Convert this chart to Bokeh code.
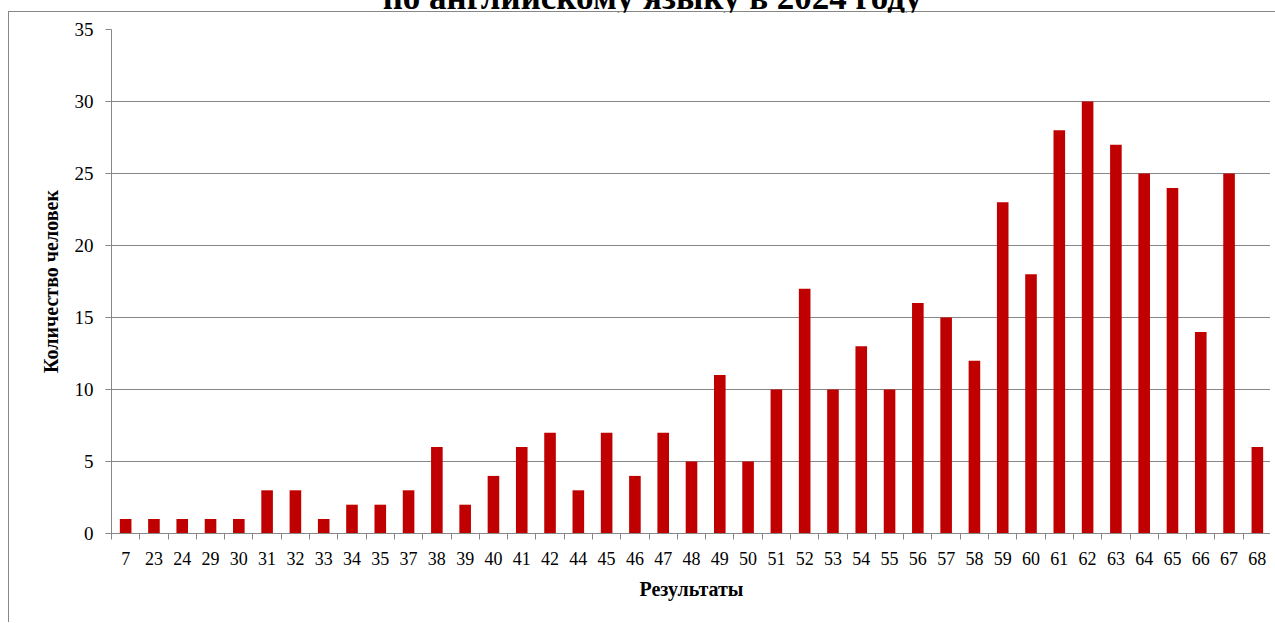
from bokeh.plotting import figure
from bokeh.models import FixedTicker, Div, Range1d
from bokeh.layouts import column
from bokeh.embed import file_html
from bokeh.resources import INLINE

# ---- data ----
scores = ["7", "23", "24", "29", "30", "31", "32", "33", "34", "35", "37", "38", "39", "40",
          "41", "42", "44", "45", "46", "47", "48", "49", "50", "51", "52", "53", "54", "55",
          "56", "57", "58", "59", "60", "61", "62", "63", "64", "65", "66", "67", "68"]
counts = [1, 1, 1, 1, 1, 3, 3, 1, 2, 2, 3, 6, 2, 4,
          6, 7, 3, 7, 4, 7, 5, 11, 5, 10, 17, 10, 13, 10,
          16, 15, 12, 23, 18, 28, 30, 27, 25, 24, 14, 25, 6]
y_ticks = [0, 5, 10, 15, 20, 25, 30, 35]
title_text = "по английскому языку в 2024 году"
x_title = "Результаты"
y_title = "Количество человек"

n = len(scores)
centers = [i + 0.5 for i in range(n)]
edges = list(range(n + 1))

GRAY = "#878787"
FONT = "Liberation Serif"

p = figure(width=1262, height=610, output_backend="svg", toolbar_location=None,
           x_range=Range1d(0, n), y_range=Range1d(0, 35),
           min_border_left=102, min_border_right=0, min_border_top=17, min_border_bottom=89,
           margin=(0, 0, 0, 8),
           styles={"border-left": "1px solid " + GRAY})
p.outline_line_color = None

p.vbar(x=centers, top=counts, width=0.41, fill_color="#C00000", line_color=None)

# x axis
xa = p.xaxis[0]
xa.ticker = FixedTicker(ticks=centers, minor_ticks=edges)
xa.major_label_overrides = {c: s for c, s in zip(centers, scores)}
xa.major_tick_line_color = None
xa.major_tick_out = 0
xa.major_tick_in = 0
xa.minor_tick_out = 6
xa.minor_tick_in = 0
xa.minor_tick_line_color = GRAY
xa.axis_line_color = GRAY
xa.major_label_text_font = FONT
xa.major_label_text_font_size = "18px"
xa.major_label_text_color = "black"
xa.major_label_standoff = 12
xa.axis_label = x_title
xa.axis_label_text_font = FONT
xa.axis_label_text_font_size = "20px"
xa.axis_label_text_font_style = "bold"
xa.axis_label_text_color = "black"
xa.axis_label_standoff = 10

# y axis
ya = p.yaxis[0]
ya.ticker = FixedTicker(ticks=y_ticks, minor_ticks=[])
ya.major_tick_out = 6
ya.major_tick_in = 0
ya.major_tick_line_color = GRAY
ya.axis_line_color = GRAY
ya.major_label_text_font = FONT
ya.major_label_text_font_size = "19px"
ya.major_label_text_color = "black"
ya.major_label_standoff = 12
ya.axis_label = y_title
ya.axis_label_text_font = FONT
ya.axis_label_text_font_size = "20px"
ya.axis_label_text_font_style = "bold"
ya.axis_label_text_color = "black"
ya.axis_label_standoff = 10

p.xgrid.grid_line_color = None
p.ygrid.grid_line_color = GRAY
p.ygrid.grid_line_width = 1

title = Div(text=title_text, width=1267, height=32, margin=(-20, 0, 0, 8),
            styles={"font-family": FONT, "font-weight": "bold", "font-size": "35px",
                    "text-align": "center", "line-height": "35px", "padding-left": "22px",
                    "color": "black", "border-bottom": "1px solid " + GRAY,
                    "box-sizing": "border-box", "white-space": "nowrap"})

layout = column(title, p, spacing=0)
open("out.html", "w").write(file_html(layout, INLINE))
